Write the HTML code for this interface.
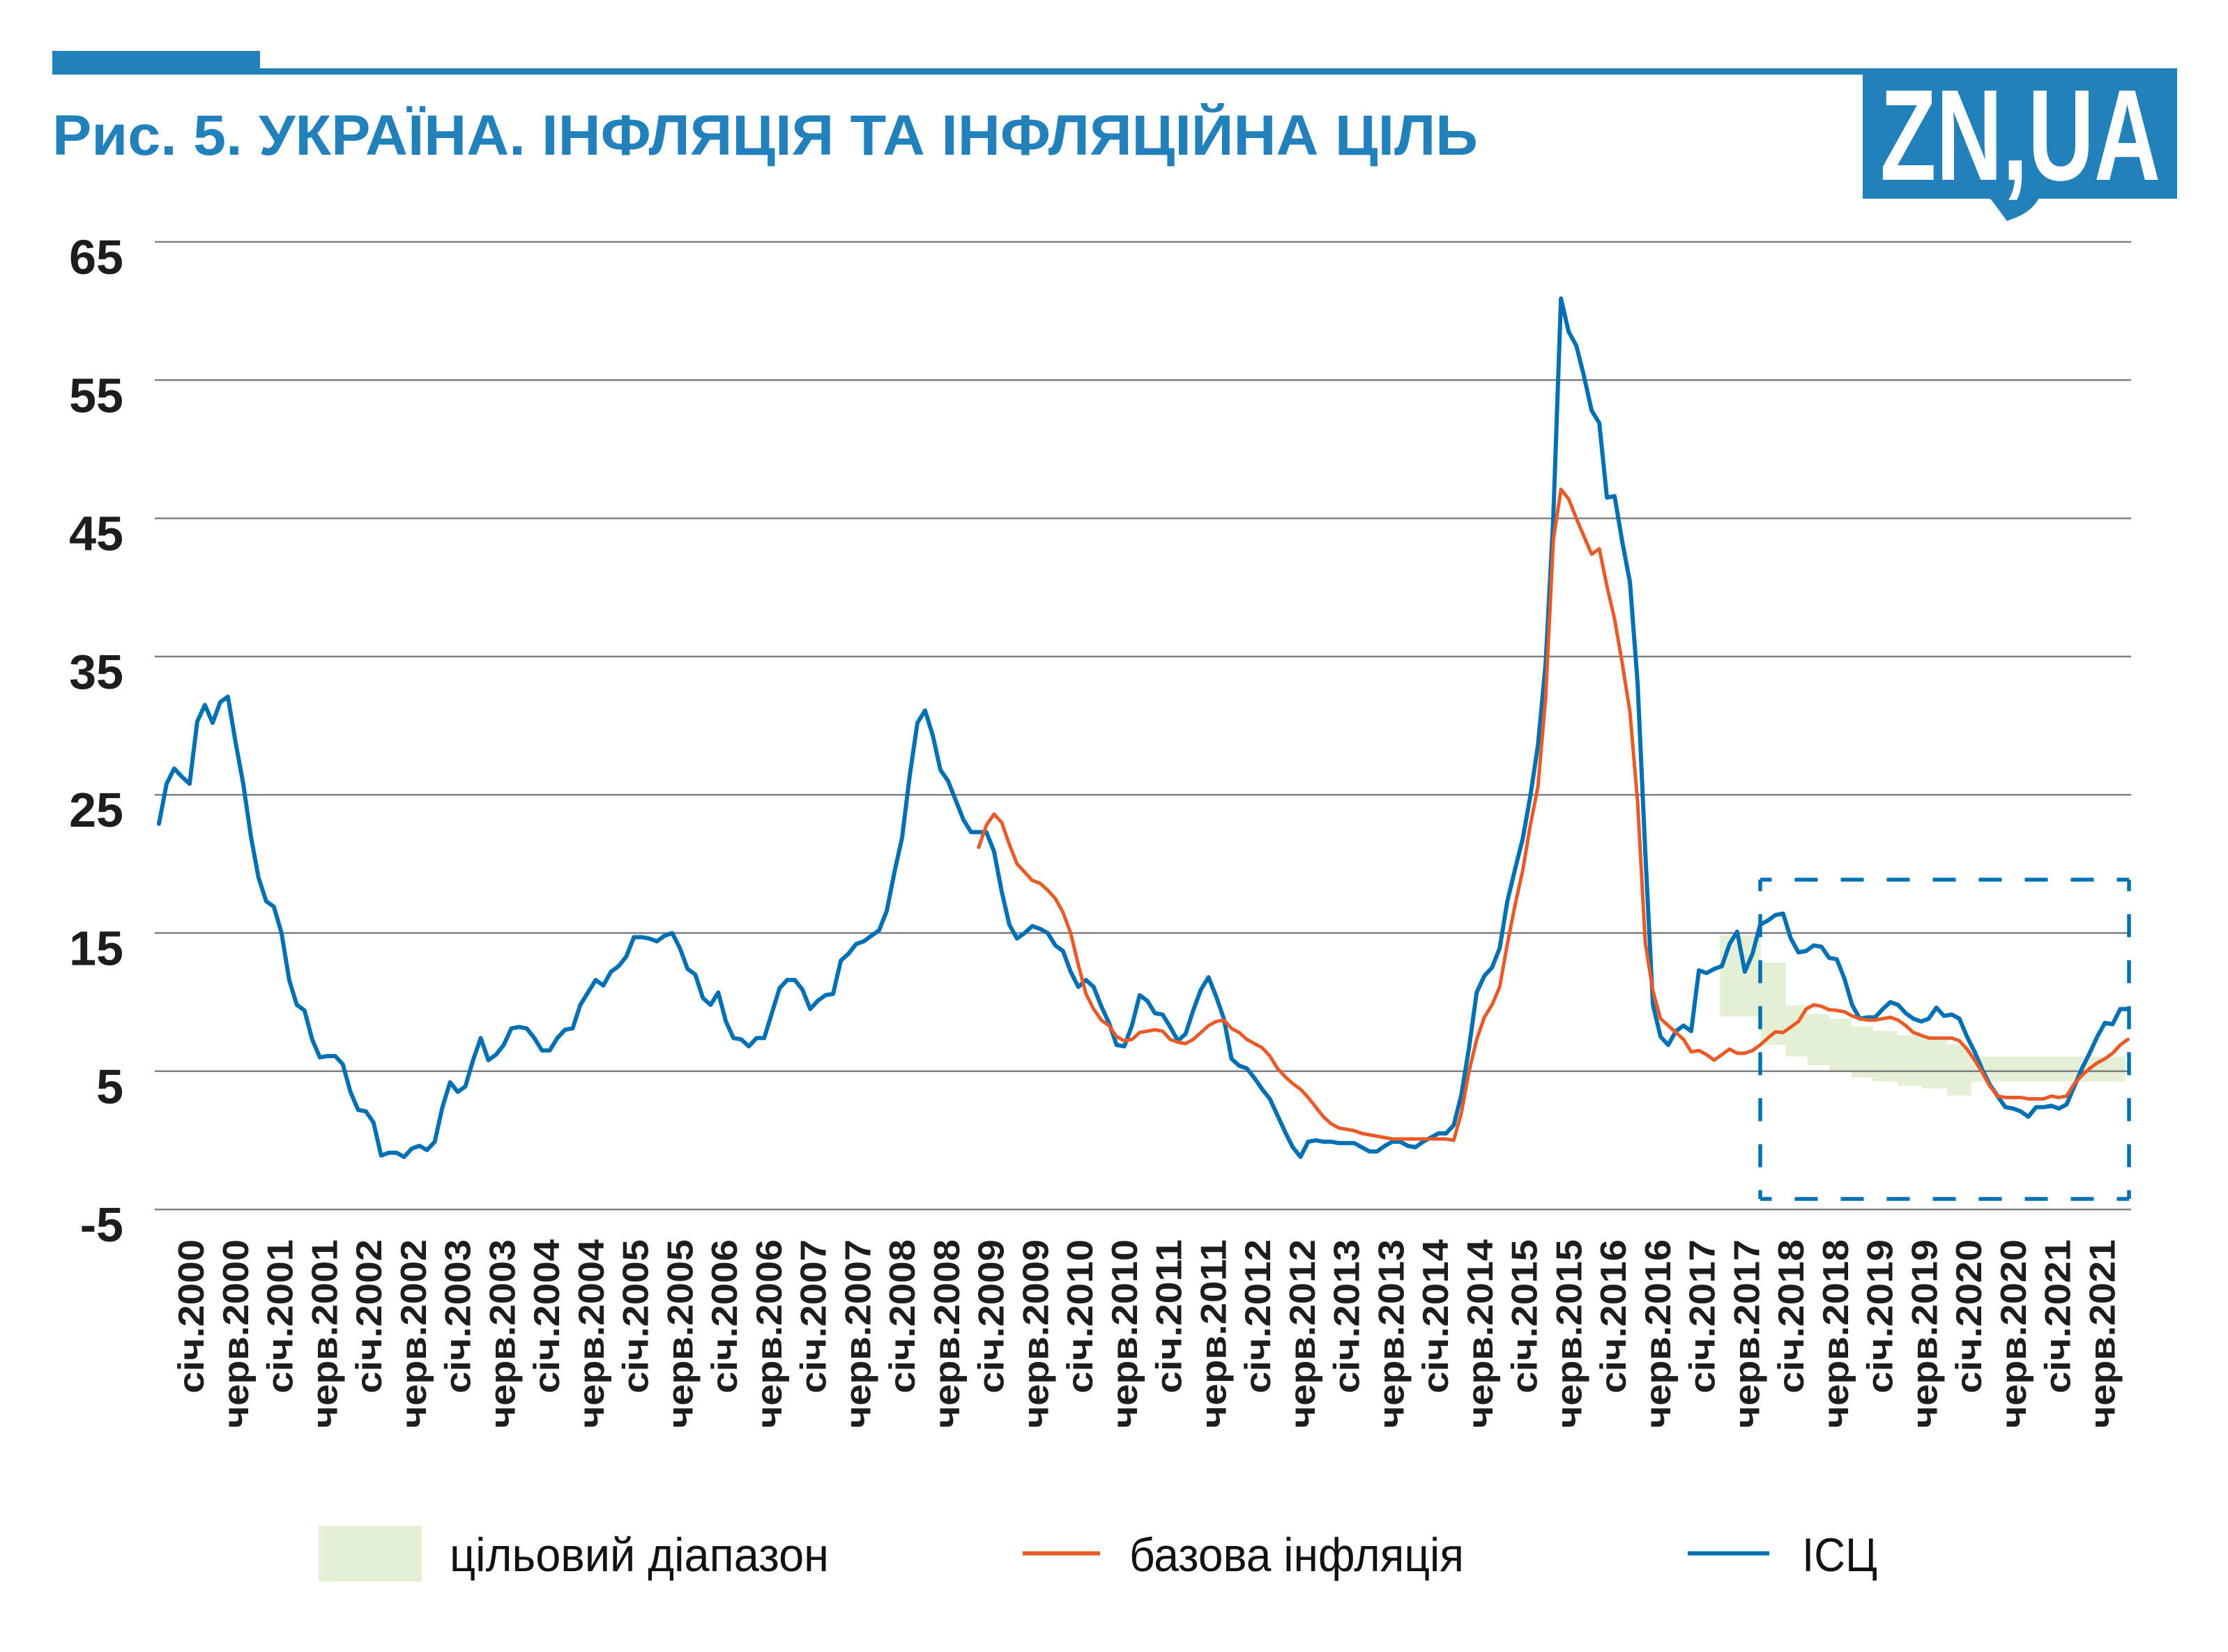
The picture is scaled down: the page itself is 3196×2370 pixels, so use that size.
<!DOCTYPE html>
<html><head><meta charset="utf-8"><style>html,body{margin:0;padding:0;background:#fff}svg{display:block}</style></head>
<body>
<svg xmlns="http://www.w3.org/2000/svg" width="3196" height="2370" viewBox="0 0 3196 2370">
<rect width="3196" height="2370" fill="#fff"/>
<!-- header -->
<rect x="75" y="73" width="298" height="34" fill="#2281bb"/>
<rect x="75" y="98" width="2600" height="9" fill="#2281bb"/>
<rect x="2672" y="98" width="451" height="187" fill="#2281bb"/>
<path d="M2850,284 L2856,286 L2879,317 C2900,310 2915,302 2925,284 Z" fill="#2281bb"/>
<text x="2697" y="258" font-family="Liberation Sans, sans-serif" font-weight="bold" font-size="186" fill="#fff" textLength="402" lengthAdjust="spacingAndGlyphs">ZN,UA</text>
<text x="75" y="222" font-family="Liberation Sans, sans-serif" font-weight="bold" font-size="82" fill="#2281bb" textLength="2045" lengthAdjust="spacingAndGlyphs">Рис. 5. УКРАЇНА. ІНФЛЯЦІЯ ТА ІНФЛЯЦІЙНА ЦІЛЬ</text>

<!-- target band -->
<g fill="#e4efd6">
<rect x="2467" y="1341.7" width="58.7" height="116.6"/>
<rect x="2525.7" y="1381" width="36" height="118"/>
<rect x="2561.7" y="1442.3" width="31" height="73.4"/>
<rect x="2592.7" y="1454.7" width="31.3" height="73.6"/>
<rect x="2624" y="1461.7" width="31.7" height="74"/>
<rect x="2655.7" y="1472.3" width="31" height="73.7"/>
<rect x="2686.7" y="1479" width="35.6" height="72.7"/>
<rect x="2722.3" y="1485" width="35.4" height="72.7"/>
<rect x="2757.7" y="1490" width="35" height="71.7"/>
<rect x="2792.7" y="1498.3" width="35" height="73.4"/>
<rect x="2827.7" y="1515.7" width="221" height="36"/>
</g>

<!-- gridlines -->
<g stroke="#7f7f7f" stroke-width="2.5">
<line x1="222" y1="347" x2="3057" y2="347"/>
<line x1="222" y1="545.3" x2="3057" y2="545.3"/>
<line x1="222" y1="743.6" x2="3057" y2="743.6"/>
<line x1="222" y1="941.9" x2="3057" y2="941.9"/>
<line x1="222" y1="1140.2" x2="3057" y2="1140.2"/>
<line x1="222" y1="1338.5" x2="3057" y2="1338.5"/>
<line x1="222" y1="1536.8" x2="3057" y2="1536.8"/>
<line x1="222" y1="1735.1" x2="3057" y2="1735.1"/>
</g>

<!-- y labels -->
<g font-family="Liberation Sans, sans-serif" font-weight="bold" font-size="70" fill="#1d1d1b" text-anchor="end">
<text x="177" y="393">65</text>
<text x="177" y="591.3">55</text>
<text x="177" y="789.6">45</text>
<text x="177" y="987.9">35</text>
<text x="177" y="1186.2">25</text>
<text x="177" y="1384.5">15</text>
<text x="177" y="1582.8">5</text>
<text x="177" y="1781.1">-5</text>
</g>

<!-- series -->
<polyline transform="matrix(10.99 0 0 -19.83 228 1635.95)" vector-effect="non-scaling-stroke" fill="none" stroke="#0070b5" stroke-width="6" stroke-linejoin="round" stroke-linecap="round" points="0,22.9 1,25.8 2,26.9 3,26.3 4,25.8 5,30.3 6,31.5 7,30.2 8,31.7 9,32.1 10,28.8 11,25.8 12,22.0 13,19.0 14,17.3 15,16.9 16,15.0 17,11.6 18,9.8 19,9.4 20,7.3 21,6.0 22,6.1 23,6.1 24,5.5 25,3.5 26,2.2 27,2.1 28,1.3 29,-1.1 30,-0.9 31,-0.9 32,-1.2 33,-0.6 34,-0.4 35,-0.7 36,-0.1 37,2.4 38,4.2 39,3.5 40,3.9 41,5.8 42,7.4 43,5.8 44,6.2 45,6.9 46,8.1 47,8.2 48,8.1 49,7.4 50,6.5 51,6.5 52,7.4 53,8.0 54,8.1 55,9.8 56,10.7 57,11.6 58,11.2 59,12.2 60,12.6 61,13.3 62,14.7 63,14.7 64,14.6 65,14.4 66,14.8 67,15.0 68,13.9 69,12.4 70,12.0 71,10.3 72,9.8 73,10.7 74,8.6 75,7.4 76,7.3 77,6.8 78,7.4 79,7.4 80,9.2 81,11.0 82,11.6 83,11.6 84,10.9 85,9.5 86,10.1 87,10.5 88,10.6 89,13.0 90,13.5 91,14.2 92,14.4 93,14.8 94,15.2 95,16.6 96,19.4 97,21.9 98,26.4 99,30.2 100,31.1 101,29.3 102,26.8 103,26.0 104,24.6 105,23.2 106,22.3 107,22.3 108,22.3 109,20.9 110,18.0 111,15.6 112,14.6 113,15.0 114,15.5 115,15.3 116,15.0 117,14.1 118,13.7 119,12.2 120,11.1 121,11.6 122,11.1 123,9.7 124,8.5 125,6.9 126,6.8 127,8.3 128,10.5 129,10.1 130,9.2 131,9.1 132,8.2 133,7.2 134,7.7 135,9.4 136,10.9 137,11.8 138,10.4 139,8.8 140,5.9 141,5.4 142,5.2 143,4.5 144,3.7 145,3.0 146,1.8 147,0.6 148,-0.5 149,-1.2 150,-0.1 151,0.0 152,-0.1 153,-0.1 154,-0.2 155,-0.2 156,-0.2 157,-0.5 158,-0.8 159,-0.8 160,-0.4 161,-0.1 162,-0.1 163,-0.4 164,-0.5 165,-0.1 166,0.2 167,0.5 168,0.5 169,1.1 170,3.3 171,6.7 172,10.7 173,11.9 174,12.5 175,13.9 176,17.3 177,19.6 178,21.8 179,24.9 180,28.6 181,34.5 182,45.1 183,60.9 184,58.5 185,57.5 186,55.3 187,52.8 188,51.9 189,46.5 190,46.6 191,43.3 192,40.4 193,33.1 194,20.9 195,9.8 196,7.5 197,6.9 198,7.9 199,8.3 200,7.9 201,12.3 202,12.1 203,12.4 204,12.6 205,14.2 206,15.1 207,12.2 208,13.5 209,15.6 210,15.9 211,16.3 212,16.4 213,14.6 214,13.6 215,13.7 216,14.1 217,14.0 218,13.2 219,13.1 220,11.7 221,9.8 222,8.8 223,8.9 224,8.9 225,9.5 226,10.0 227,9.8 228,9.2 229,8.8 230,8.6 231,8.8 232,9.6 233,9.0 234,9.1 235,8.8 236,7.5 237,6.4 238,5.1 239,4.0 240,3.2 241,2.4 242,2.3 243,2.1 244,1.7 245,2.4 246,2.4 247,2.5 248,2.3 249,2.6 250,3.9 251,5.2 252,6.3 253,7.5 254,8.5 255,8.4 256,9.5 257,9.5"/>
<polyline transform="matrix(10.99 0 0 -19.83 228 1635.95)" vector-effect="non-scaling-stroke" fill="none" stroke="#e95a27" stroke-width="5" stroke-linejoin="round" stroke-linecap="round" points="107,21.2 108,22.8 109,23.6 110,23.0 111,21.4 112,20.0 113,19.4 114,18.8 115,18.6 116,18.1 117,17.5 118,16.5 119,15.0 120,12.7 121,10.6 122,9.5 123,8.7 124,8.3 125,7.5 126,7.2 127,7.3 128,7.8 129,7.9 130,8.0 131,7.9 132,7.3 133,7.1 134,7.0 135,7.3 136,7.8 137,8.3 138,8.6 139,8.7 140,8.1 141,7.8 142,7.3 143,7.0 144,6.7 145,6.1 146,5.2 147,4.6 148,4.1 149,3.7 150,3.1 151,2.4 152,1.7 153,1.2 154,0.9 155,0.8 156,0.7 157,0.5 158,0.4 159,0.3 160,0.2 161,0.1 162,0.1 163,0.1 164,0.1 165,0.1 166,0.1 167,0.1 168,0.1 169,0.0 170,2.0 171,5.0 172,7.3 173,8.9 174,9.8 175,11.1 176,14.2 177,17.0 178,19.5 179,22.8 180,25.6 181,32.0 182,43.4 183,47.1 184,46.4 185,45.0 186,43.7 187,42.4 188,42.8 189,40.1 190,37.7 191,34.5 192,31.0 193,24.5 194,14.3 195,10.8 196,8.8 197,8.3 198,7.8 199,7.3 200,6.4 201,6.5 202,6.2 203,5.8 204,6.2 205,6.6 206,6.3 207,6.3 208,6.5 209,6.9 210,7.4 211,7.85 212,7.8 213,8.2 214,8.6 215,9.5 216,9.8 217,9.7 218,9.45 219,9.4 220,9.3 221,9.0 222,8.8 223,8.7 224,8.7 225,8.8 226,8.9 227,8.7 228,8.3 229,7.8 230,7.6 231,7.4 232,7.4 233,7.4 234,7.4 235,7.2 236,6.6 237,5.8 238,4.9 239,3.9 240,3.2 241,3.1 242,3.1 243,3.1 244,3.0 245,3.0 246,3.0 247,3.2 248,3.1 249,3.2 250,4.1 251,4.7 252,5.2 253,5.6 254,5.9 255,6.3 256,6.9 257,7.3"/>

<!-- dashed box -->
<g stroke="#0070b5" stroke-width="5.5" fill="none" stroke-dasharray="33 33" stroke-dashoffset="16.5">
<path d="M2525,1262 H3054"/>
<path d="M3054,1262 V1720"/>
<path d="M2525,1262 V1720"/>
<path d="M2525,1720 H3054"/>
</g>

<!-- x labels -->
<g font-family="Liberation Sans, sans-serif" font-weight="bold" font-size="52" fill="#1d1d1b" text-anchor="end" lengthAdjust="spacingAndGlyphs">
<text transform="translate(292,1778) rotate(-90)" textLength="221" lengthAdjust="spacingAndGlyphs">січ.2000</text>
<text transform="translate(355.75,1778) rotate(-90)" textLength="271" lengthAdjust="spacingAndGlyphs">черв.2000</text>
<text transform="translate(419.5,1778) rotate(-90)" textLength="221" lengthAdjust="spacingAndGlyphs">січ.2001</text>
<text transform="translate(483.25,1778) rotate(-90)" textLength="271" lengthAdjust="spacingAndGlyphs">черв.2001</text>
<text transform="translate(547,1778) rotate(-90)" textLength="221" lengthAdjust="spacingAndGlyphs">січ.2002</text>
<text transform="translate(610.75,1778) rotate(-90)" textLength="271" lengthAdjust="spacingAndGlyphs">черв.2002</text>
<text transform="translate(674.5,1778) rotate(-90)" textLength="221" lengthAdjust="spacingAndGlyphs">січ.2003</text>
<text transform="translate(738.25,1778) rotate(-90)" textLength="271" lengthAdjust="spacingAndGlyphs">черв.2003</text>
<text transform="translate(802,1778) rotate(-90)" textLength="221" lengthAdjust="spacingAndGlyphs">січ.2004</text>
<text transform="translate(865.75,1778) rotate(-90)" textLength="271" lengthAdjust="spacingAndGlyphs">черв.2004</text>
<text transform="translate(929.5,1778) rotate(-90)" textLength="221" lengthAdjust="spacingAndGlyphs">січ.2005</text>
<text transform="translate(993.25,1778) rotate(-90)" textLength="271" lengthAdjust="spacingAndGlyphs">черв.2005</text>
<text transform="translate(1057,1778) rotate(-90)" textLength="221" lengthAdjust="spacingAndGlyphs">січ.2006</text>
<text transform="translate(1120.75,1778) rotate(-90)" textLength="271" lengthAdjust="spacingAndGlyphs">черв.2006</text>
<text transform="translate(1184.5,1778) rotate(-90)" textLength="221" lengthAdjust="spacingAndGlyphs">січ.2007</text>
<text transform="translate(1248.25,1778) rotate(-90)" textLength="271" lengthAdjust="spacingAndGlyphs">черв.2007</text>
<text transform="translate(1312,1778) rotate(-90)" textLength="221" lengthAdjust="spacingAndGlyphs">січ.2008</text>
<text transform="translate(1375.75,1778) rotate(-90)" textLength="271" lengthAdjust="spacingAndGlyphs">черв.2008</text>
<text transform="translate(1439.5,1778) rotate(-90)" textLength="221" lengthAdjust="spacingAndGlyphs">січ.2009</text>
<text transform="translate(1503.25,1778) rotate(-90)" textLength="271" lengthAdjust="spacingAndGlyphs">черв.2009</text>
<text transform="translate(1567,1778) rotate(-90)" textLength="221" lengthAdjust="spacingAndGlyphs">січ.2010</text>
<text transform="translate(1630.75,1778) rotate(-90)" textLength="271" lengthAdjust="spacingAndGlyphs">черв.2010</text>
<text transform="translate(1694.5,1778) rotate(-90)" textLength="221" lengthAdjust="spacingAndGlyphs">січ.2011</text>
<text transform="translate(1758.25,1778) rotate(-90)" textLength="271" lengthAdjust="spacingAndGlyphs">черв.2011</text>
<text transform="translate(1822,1778) rotate(-90)" textLength="221" lengthAdjust="spacingAndGlyphs">січ.2012</text>
<text transform="translate(1885.75,1778) rotate(-90)" textLength="271" lengthAdjust="spacingAndGlyphs">черв.2012</text>
<text transform="translate(1949.5,1778) rotate(-90)" textLength="221" lengthAdjust="spacingAndGlyphs">січ.2013</text>
<text transform="translate(2013.25,1778) rotate(-90)" textLength="271" lengthAdjust="spacingAndGlyphs">черв.2013</text>
<text transform="translate(2077,1778) rotate(-90)" textLength="221" lengthAdjust="spacingAndGlyphs">січ.2014</text>
<text transform="translate(2140.75,1778) rotate(-90)" textLength="271" lengthAdjust="spacingAndGlyphs">черв.2014</text>
<text transform="translate(2204.5,1778) rotate(-90)" textLength="221" lengthAdjust="spacingAndGlyphs">січ.2015</text>
<text transform="translate(2268.25,1778) rotate(-90)" textLength="271" lengthAdjust="spacingAndGlyphs">черв.2015</text>
<text transform="translate(2332,1778) rotate(-90)" textLength="221" lengthAdjust="spacingAndGlyphs">січ.2016</text>
<text transform="translate(2395.75,1778) rotate(-90)" textLength="271" lengthAdjust="spacingAndGlyphs">черв.2016</text>
<text transform="translate(2459.5,1778) rotate(-90)" textLength="221" lengthAdjust="spacingAndGlyphs">січ.2017</text>
<text transform="translate(2523.25,1778) rotate(-90)" textLength="271" lengthAdjust="spacingAndGlyphs">черв.2017</text>
<text transform="translate(2587,1778) rotate(-90)" textLength="221" lengthAdjust="spacingAndGlyphs">січ.2018</text>
<text transform="translate(2650.75,1778) rotate(-90)" textLength="271" lengthAdjust="spacingAndGlyphs">черв.2018</text>
<text transform="translate(2714.5,1778) rotate(-90)" textLength="221" lengthAdjust="spacingAndGlyphs">січ.2019</text>
<text transform="translate(2778.25,1778) rotate(-90)" textLength="271" lengthAdjust="spacingAndGlyphs">черв.2019</text>
<text transform="translate(2842,1778) rotate(-90)" textLength="221" lengthAdjust="spacingAndGlyphs">січ.2020</text>
<text transform="translate(2905.75,1778) rotate(-90)" textLength="271" lengthAdjust="spacingAndGlyphs">черв.2020</text>
<text transform="translate(2969.5,1778) rotate(-90)" textLength="221" lengthAdjust="spacingAndGlyphs">січ.2021</text>
<text transform="translate(3033.25,1778) rotate(-90)" textLength="271" lengthAdjust="spacingAndGlyphs">черв.2021</text>
</g>

<!-- legend -->
<rect x="457" y="2189" width="148" height="80" fill="#e4efd6"/>
<text x="645" y="2254" font-family="Liberation Sans, sans-serif" font-size="68" fill="#111" textLength="544" lengthAdjust="spacingAndGlyphs">цільовий діапазон</text>
<rect x="1467" y="2225.5" width="111" height="6" fill="#e95a27"/>
<text x="1620" y="2254" font-family="Liberation Sans, sans-serif" font-size="68" fill="#111" textLength="480" lengthAdjust="spacingAndGlyphs">базова інфляція</text>
<rect x="2421" y="2225.5" width="117" height="6" fill="#0070b5"/>
<text x="2585" y="2254" font-family="Liberation Sans, sans-serif" font-size="68" fill="#111" textLength="108" lengthAdjust="spacingAndGlyphs">ІСЦ</text>
</svg>
</body></html>
